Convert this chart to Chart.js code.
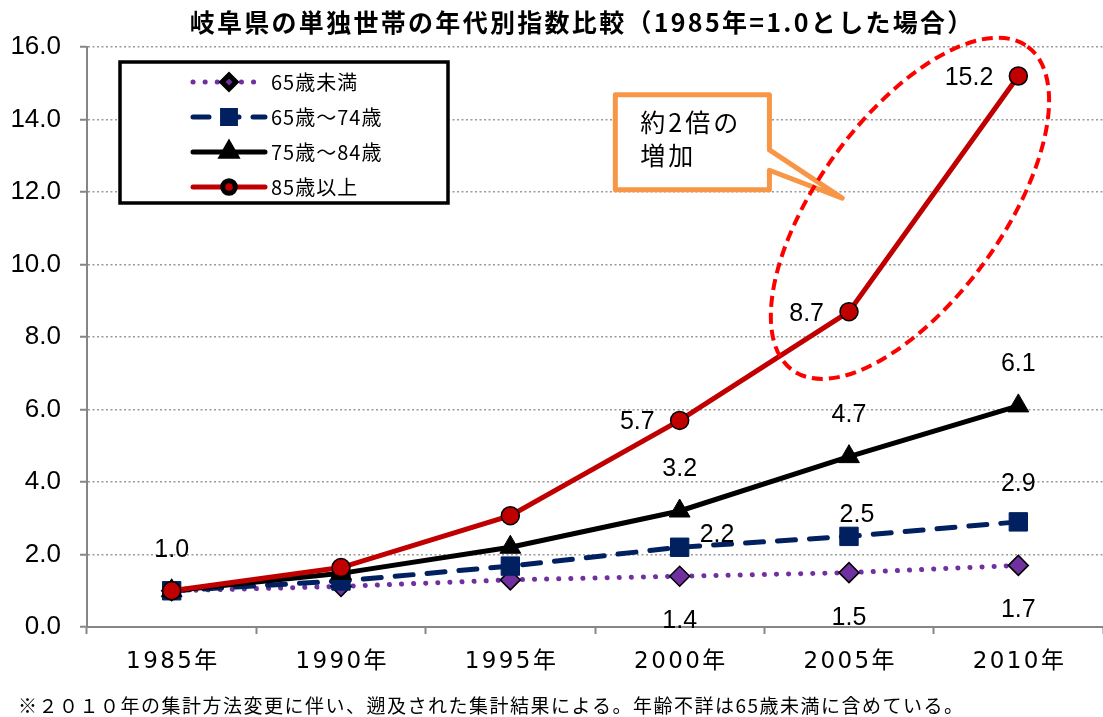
<!DOCTYPE html>
<html lang="ja">
<head>
<meta charset="utf-8">
<title>岐阜県の単独世帯の年代別指数比較</title>
<script src="https://cdn.jsdelivr.net/npm/chart.js@4.4.1/dist/chart.umd.min.js"></script>
<style>
  html, body { margin: 0; padding: 0; background: #fff; }
  canvas { display: block; }
</style>
</head>
<body>
<canvas id="chart" width="1103" height="717"></canvas>
<script>
// --- values ---
const years = ['1985年', '1990年', '1995年', '2000年', '2005年', '2010年'];
const seriesNames = ['65歳未満', '65歳～74歳', '75歳～84歳', '85歳以上'];
const under65 = [1.0, 1.12, 1.3, 1.4, 1.5, 1.7];
const age65to74 = [1.0, 1.27, 1.68, 2.2, 2.5, 2.9];
const age75to84 = [1.0, 1.48, 2.2, 3.2, 4.7, 6.1];
const over85 = [1.0, 1.64, 3.07, 5.7, 8.7, 15.2];

// which points carry a value label
const under65Shown = [false, false, false, true, true, true];
const age65to74Shown = [false, false, false, true, true, true];
const age75to84Shown = [false, false, false, true, true, true];
const over85Shown = [true, false, false, true, true, true];

const yMin = 0, yMax = 16, yStep = 2;

const titleText = '岐阜県の単独世帯の年代別指数比較（1985年=1.0とした場合）';
const noteText = '※２０１０年の集計方法変更に伴い、遡及された集計結果による。年齢不詳は65歳未満に含めている。';
const calloutLines = ['約2倍の', '増加'];

const JP = '"Noto Sans CJK JP", "Noto Sans", sans-serif';
const NUM = '"Liberation Sans", Arial, sans-serif';
const WIDE = '"DejaVu Sans", "Noto Sans CJK JP", sans-serif';

// label placement per series (dx, dy, align) - styling only
const labelPlacement = {
  '65歳未満': () => ({ dx: 0, dy: 45, align: 'center' }),
  '65歳～74歳': i => i === 3 ? { dx: 20, dy: -12, align: 'left' }
                  : i === 4 ? { dx: 8, dy: -21, align: 'center' }
                  : { dx: 0, dy: -38, align: 'center' },
  '75歳～84歳': () => ({ dx: 0, dy: -42, align: 'center' }),
  '85歳以上': i => i === 0 ? { dx: 0, dy: -41, align: 'center' }
                 : { dx: -25, dy: 2, align: 'right' }
};

const shownFlags = [under65Shown, age65to74Shown, age75to84Shown, over85Shown];

function spacedText(ctx, text, x, y, spacing, align) {
  ctx.letterSpacing = spacing + 'px';
  ctx.textAlign = align;
  // trailing spacing shifts centred text, compensate
  const shift = align === 'center' ? spacing / 2 : 0;
  ctx.fillText(text, x + shift, y);
  ctx.letterSpacing = '0px';
}

const decorations = {
  id: 'decorations',
  afterDatasetsDraw(chart) {
    const ctx = chart.ctx;
    ctx.save();
    ctx.font = '25px ' + NUM;
    ctx.fillStyle = '#000';
    ctx.textBaseline = 'middle';
    chart.data.datasets.forEach((ds, di) => {
      const meta = chart.getDatasetMeta(di);
      const flags = shownFlags[di];
      meta.data.forEach((pt, i) => {
        if (!flags[i]) return;
        const p = labelPlacement[ds.label](i);
        ctx.textAlign = p.align;
        ctx.fillText(ds.data[i].toFixed(1), pt.x + p.dx, pt.y + p.dy);
      });
    });
    ctx.restore();
  },
  afterDraw(chart) {
    const ctx = chart.ctx;
    const xs = chart.scales.x, ys = chart.scales.y;
    const area = chart.chartArea;
    ctx.save();
    ctx.fillStyle = '#000';
    ctx.textBaseline = 'middle';

    // title
    ctx.font = 'bold 25px ' + JP;
    spacedText(ctx, titleText, 581, 22, 2.3, 'center');

    // category labels
    ctx.font = '23px ' + WIDE;
    years.forEach((lab, i) => {
      spacedText(ctx, lab, xs.getPixelForTick(i), area.bottom + 35, 2.4, 'center');
    });

    // footnote
    ctx.font = '19px ' + JP;
    spacedText(ctx, noteText, 18, 706, 1.5, 'left');

    // legend box
    const lx = area.left + 33, ly = area.top + 15, lw = 328, lh = 141;
    ctx.fillStyle = '#fff';
    ctx.fillRect(lx, ly, lw, lh);
    ctx.lineWidth = 3.5;
    ctx.strokeStyle = '#000';
    ctx.strokeRect(lx, ly, lw, lh);
    chart.data.datasets.forEach((ds, di) => {
      const rowY = ly + 20 + di * 35;
      const x0 = lx + 73, x1 = lx + (di === 0 ? 139 : 145), xm = lx + 109;
      ctx.save();
      ctx.strokeStyle = ds.borderColor;
      ctx.lineWidth = ds.borderWidth;
      ctx.lineCap = 'round';
      ctx.setLineDash(di === 0 ? [0.1, 12] : di === 1 ? [16, 14] : []);
      ctx.beginPath();
      ctx.moveTo(x0, rowY);
      ctx.lineTo(x1, rowY);
      ctx.stroke();
      ctx.setLineDash([]);
      ctx.fillStyle = ds.pointBackgroundColor;
      ctx.strokeStyle = ds.pointBorderColor;
      Chart.helpers.drawPoint(ctx, {
        pointStyle: ds.pointStyle,
        radius: ds.pointRadius * 0.7,
        rotation: 0,
        borderWidth: ds.pointBorderWidth
      }, xm, rowY);
      ctx.restore();
      ctx.fillStyle = '#000';
      ctx.font = '20px ' + JP;
      spacedText(ctx, ds.label, lx + 151, rowY, 1, 'left');
    });

    // callout box "約2倍の増加"
    const bl = xs.getPixelForValue(2.62), br = xs.getPixelForValue(3.53);
    const bt = ys.getPixelForValue(14.68), bb = ys.getPixelForValue(12.06);
    const p1 = ys.getPixelForValue(13.16), p2 = ys.getPixelForValue(12.6);
    const tipX = xs.getPixelForValue(3.96), tipY = ys.getPixelForValue(11.83);
    ctx.beginPath();
    ctx.moveTo(bl, bt);
    ctx.lineTo(br, bt);
    ctx.lineTo(br, p1);
    ctx.lineTo(tipX, tipY);
    ctx.lineTo(br, p2);
    ctx.lineTo(br, bb);
    ctx.lineTo(bl, bb);
    ctx.closePath();
    ctx.fillStyle = '#fff';
    ctx.fill();
    ctx.lineWidth = 5;
    ctx.lineJoin = 'round';
    ctx.strokeStyle = '#F79646';
    ctx.stroke();
    ctx.fillStyle = '#000';
    ctx.font = '25px ' + JP;
    calloutLines.forEach((t, i) => {
      spacedText(ctx, t, bl + 25, bt + 28 + i * 33, 3, 'left');
    });

    // dashed ellipse around the last two 85+ points
    const cx = xs.getPixelForValue(4.36), cy = ys.getPixelForValue(11.55);
    ctx.beginPath();
    ctx.ellipse(cx, cy, 200, 92, -54 * Math.PI / 180, 0, Math.PI * 2);
    ctx.setLineDash([11, 6]);
    ctx.lineWidth = 4;
    ctx.strokeStyle = '#FF0000';
    ctx.stroke();
    ctx.restore();
  }
};

const datasets = [
  {
    label: seriesNames[0], data: under65,
    borderColor: '#7030A0', borderWidth: 5, borderDash: [0.1, 12], borderCapStyle: 'round',
    pointStyle: 'rectRot', pointRadius: 10, pointBackgroundColor: '#7030A0',
    pointBorderColor: '#000', pointBorderWidth: 1.5, order: 4
  },
  {
    label: seriesNames[1], data: age65to74,
    borderColor: '#002060', borderWidth: 5, borderDash: [18, 14], borderCapStyle: 'round',
    pointStyle: 'rect', pointRadius: 13, pointBackgroundColor: '#002060',
    pointBorderColor: '#002060', pointBorderWidth: 1, order: 3
  },
  {
    label: seriesNames[2], data: age75to84,
    borderColor: '#000000', borderWidth: 5,
    pointStyle: 'triangle', pointRadius: 12, pointBackgroundColor: '#000',
    pointBorderColor: '#000', pointBorderWidth: 1, order: 2
  },
  {
    label: seriesNames[3], data: over85,
    borderColor: '#C00000', borderWidth: 5,
    pointStyle: 'circle', pointRadius: 9, pointBackgroundColor: '#C00000',
    pointBorderColor: '#000', pointBorderWidth: 1.5, order: 1
  }
];
datasets.forEach(d => { d.tension = 0; d.fill = false; d.pointHoverRadius = d.pointRadius; });

new Chart(document.getElementById('chart'), {
  type: 'line',
  data: { labels: years, datasets },
  options: {
    responsive: false,
    animation: false,
    layout: { autoPadding: false, padding: { left: 0, top: 47, right: -4, bottom: 83 } },
    plugins: { legend: { display: false }, title: { display: false }, tooltip: { enabled: false } },
    scales: {
      x: {
        offset: true,
        ticks: { display: false },
        grid: { drawOnChartArea: false, drawTicks: true, tickLength: 7, tickColor: '#868686', tickWidth: 2, offset: true },
        border: { color: '#868686', width: 2 }
      },
      y: {
        min: yMin, max: yMax,
        afterFit: s => { s.width = 87; },
        ticks: {
          stepSize: yStep, padding: 19, color: '#000',
          font: { family: NUM, size: 26 },
          callback: v => Number(v).toFixed(1)
        },
        grid: {
          color: c => c.tick && c.tick.value === 0 ? 'rgba(0,0,0,0)' : '#9a9a9a',
          lineWidth: 1.5, tickLength: 7, tickColor: '#868686', tickWidth: 2
        },
        border: { color: '#868686', width: 2, dash: [2, 2.5] }
      }
    }
  },
  plugins: [decorations]
});
</script>
</body>
</html>
